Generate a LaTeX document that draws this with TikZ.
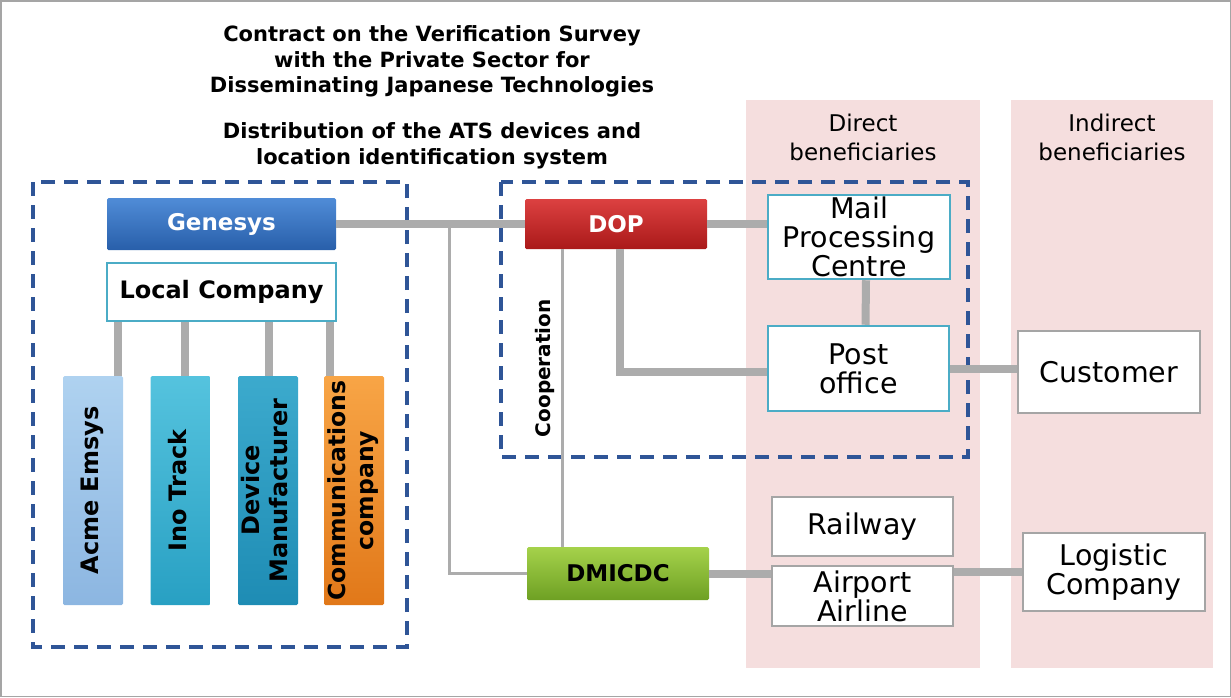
\documentclass[tikz,border=0pt]{standalone}
\usepackage{fontspec}
\setmainfont{DejaVu Sans}
\usetikzlibrary{positioning}

\definecolor{dashblue}{RGB}{47,85,151}
\definecolor{boxteal}{RGB}{75,172,198}
\definecolor{boxgray}{RGB}{165,165,165}
\definecolor{linkgray}{RGB}{172,172,172}
\definecolor{colpink}{RGB}{245,222,222}

\newcommand{\vtext}[1]{\rotatebox{90}{\begin{tabular}{@{}c@{}}#1\end{tabular}}}

\begin{document}
\begin{tikzpicture}[
  x=1pt, y=-1pt,
  comp/.style={draw=boxteal, line width=2.5pt, fill=white, inner sep=0pt, align=center,
    font=\fontsize{28.5}{29}\selectfont},
  extbox/.style={comp, draw=boxgray},
  unit/.style={rounded corners=1.5pt, inner sep=0pt, align=center, text=white,
    font=\bfseries\fontsize{23}{27}\selectfont},
  bar/.style={unit, text=black, minimum width=60, minimum height=229,
    font=\bfseries\fontsize{24}{28}\selectfont},
  column/.style={fill=colpink, inner sep=0pt, minimum width=234, minimum height=568},
  bound/.style={draw=dashblue, line width=3.5pt, dash pattern=on 14pt off 9pt},
  heading/.style={align=center, font=\bfseries\fontsize{21}{25.5}\selectfont},
  colhead/.style={align=center, font=\fontsize{23}{29}\selectfont},
  link/.style={draw=linkgray, line width=8pt},
  thinlink/.style={draw=linkgray, line width=3pt}
]
\useasboundingbox (0,0) rectangle (1231,697);
\draw[boxgray, line width=1.5pt] (0.75,0.75) rectangle (1230.25,696.25);

% beneficiary columns
\node[column] (direct) at (863,384) {};
\node[column, minimum width=202] (indirect) at (1112,384) {};
\node[colhead] at (863,137.5) {Direct\\beneficiaries};
\node[colhead] at (1112,137.5) {Indirect\\beneficiaries};

% headings
\node[heading] (contract) at (432,61.5) {Contract on the Verification Survey\\with the Private Sector for\\Disseminating Japanese Technologies};
\node[heading] (scope) at (432,146) {Distribution of the ATS devices and\\location identification system};

% dashed groups
\draw[bound] (33,182) rectangle (407,647);
\draw[bound] (501,182) rectangle (968,457);

% left group
\node[unit, top color={rgb,255:red,80;green,140;blue,215}, bottom color={rgb,255:red,40;green,95;blue,170},
  minimum width=229, minimum height=52] (genesys) at (221.5,224) {Genesys};
\node[comp, font=\bfseries\fontsize{24}{28}\selectfont, minimum width=229, minimum height=58]
  (local) at (221.5,292) {Local Company};
\node[bar, top color={rgb,255:red,175;green,210;blue,240}, bottom color={rgb,255:red,140;green,182;blue,225}]
  (acme) at (93,490.5) {\vtext{Acme Emsys}};
\node[bar, top color={rgb,255:red,85;green,195;blue,222}, bottom color={rgb,255:red,40;green,160;blue,195}]
  (ino) at (180.5,490.5) {\vtext{Ino Track}};
\node[bar, top color={rgb,255:red,60;green,170;blue,205}, bottom color={rgb,255:red,30;green,140;blue,180}]
  (device) at (268,490.5) {\vtext{Device\\Manufacturer}};
\node[bar, font=\bfseries\fontsize{23.5}{28}\selectfont,
  top color={rgb,255:red,248;green,165;blue,70}, bottom color={rgb,255:red,225;green,120;blue,25}]
  (comms) at (354,490.5) {\vtext{Communications\\company}};

% right group
\node[unit, top color={rgb,255:red,220;green,65;blue,65}, bottom color={rgb,255:red,170;green,25;blue,25},
  minimum width=182, minimum height=50] (dop) at (616,224) {DOP};
\node[comp, minimum width=182, minimum height=84] (mail) at (859,237) {Mail\\Processing\\Centre};
\node[comp, minimum width=181, minimum height=85] (post) at (858.5,368.5) {Post\\office};
\node[extbox, minimum width=182, minimum height=82] (customer) at (1109,372) {Customer};

% logistics
\node[unit, text=black, top color={rgb,255:red,165;green,210;blue,75}, bottom color={rgb,255:red,110;green,160;blue,35},
  minimum width=182, minimum height=53] (dmicdc) at (618,573.5) {DMICDC};
\node[extbox, minimum width=181, minimum height=59] (railway) at (862.5,526.5) {Railway};
\node[extbox, minimum width=181, minimum height=60] (airport) at (862.5,596) {Airport\\Airline};
\node[extbox, minimum width=182, minimum height=78] (logistic) at (1114,572) {Logistic\\Company};

% connectors
\draw[link] (genesys.east) -- (dop.west);
\coordinate (branch) at (449,224);
\draw[thinlink] (branch) |- (dmicdc.west);
\draw[link] ([xshift=-5pt]acme.north east) -- ([xshift=-5pt]acme.north east |- local.south);
\draw[link] ([xshift=4pt]ino.north) -- ([xshift=4pt]ino.north |- local.south);
\draw[link] ([xshift=1pt]device.north) -- ([xshift=1pt]device.north |- local.south);
\draw[link] ([xshift=6pt]comms.north west) -- ([xshift=6pt]comms.north west |- local.south);
\draw[link] (dop.east) -- (dop.east -| mail.west);
\draw[link] ([xshift=7pt]mail.south) -- ([xshift=7pt]post.north);
\draw[link] ([xshift=4pt]dop.south) |- ([yshift=-3pt]post.west);
\draw[thinlink] ([xshift=-54pt]dop.south) -- node[pos=0.4, rotate=90, anchor=south, inner sep=6pt,
  font=\bfseries\fontsize{20}{22}\selectfont, text=black] {Cooperation} ([xshift=-54pt]dop.south |- dmicdc.north);
\draw[link] (post.east) -- (post.east -| customer.west);
\draw[link] (dmicdc.east) -- (dmicdc.east -| airport.west);
\draw[link] (logistic.west -| airport.east) -- (logistic.west);
\end{tikzpicture}
\end{document}
